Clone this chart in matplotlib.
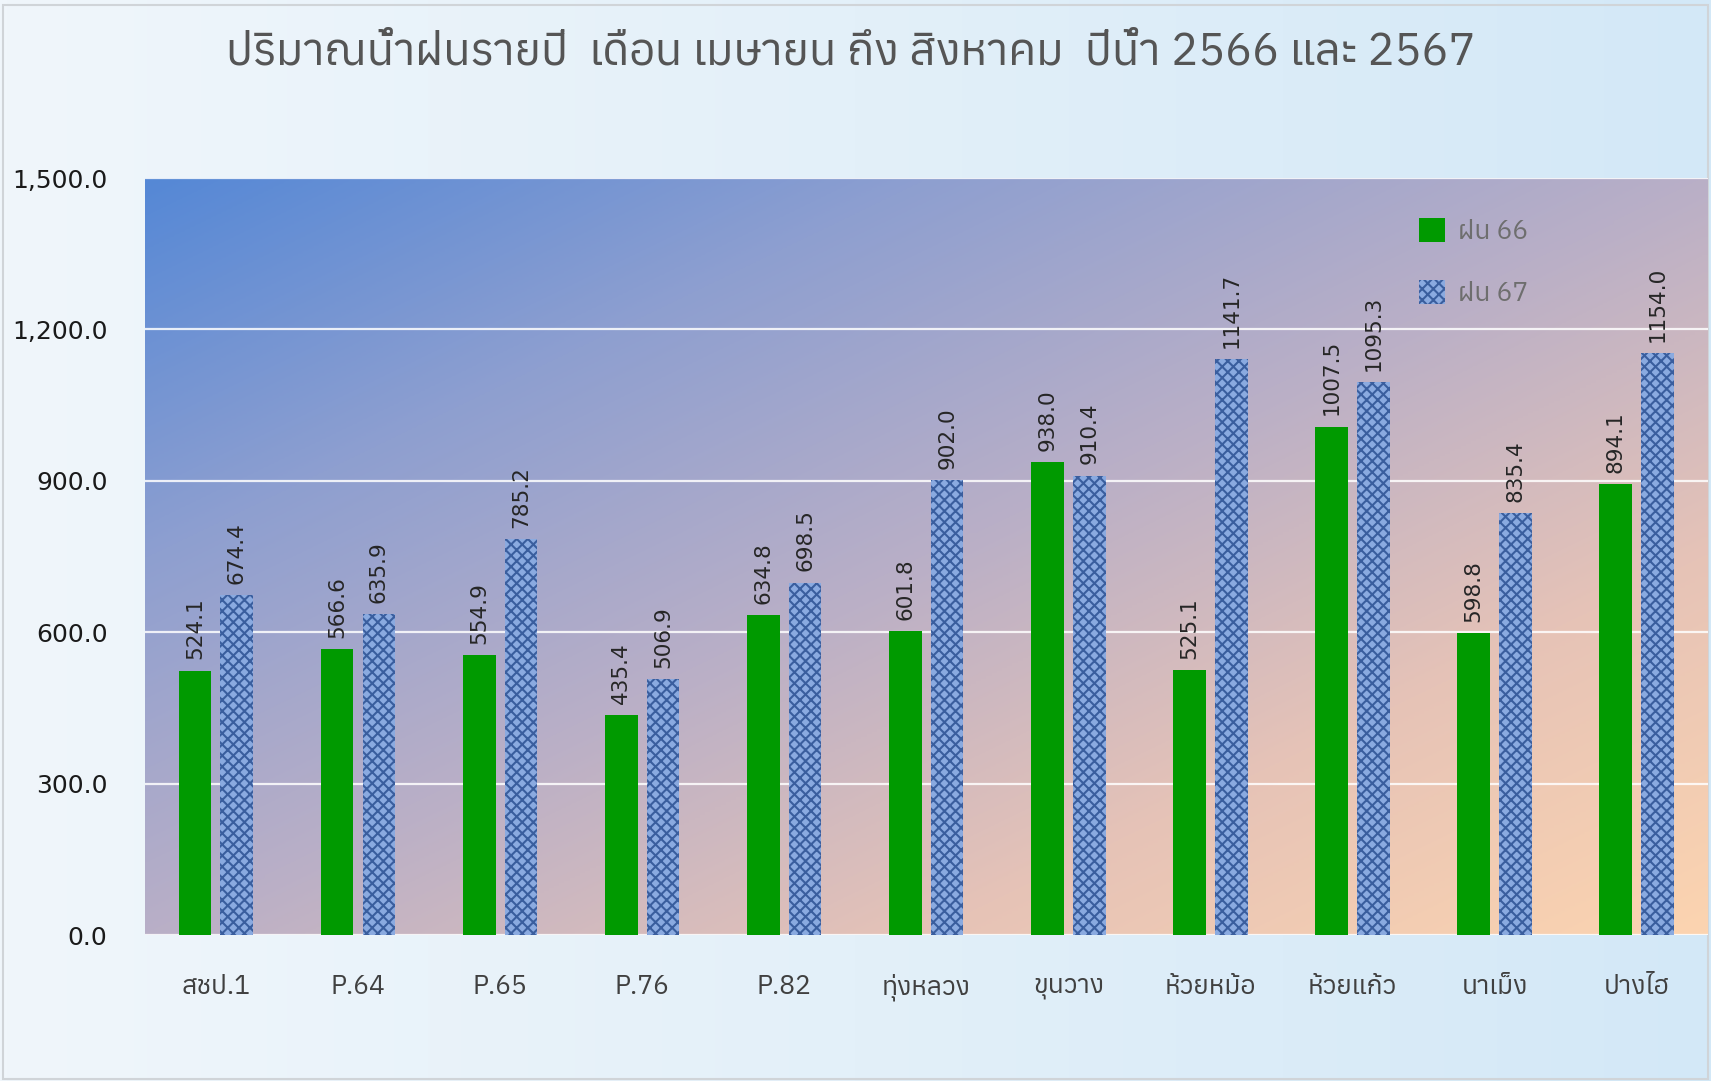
import matplotlib
matplotlib.use('Agg')
import matplotlib.pyplot as plt
import numpy as np
from matplotlib import font_manager
from matplotlib.ft2font import FT2Font
from matplotlib.colors import LinearSegmentedColormap
from matplotlib.patches import Patch, Rectangle
from matplotlib.ticker import FuncFormatter

# data
stations = ['สชป.1', 'P.64', 'P.65', 'P.76', 'P.82', 'ทุ่งหลวง', 'ขุนวาง',
            'ห้วยหม้อ', 'ห้วยแก้ว', 'นาเม็ง', 'ปางไฮ']
rain_66 = [524.1, 566.6, 554.9, 435.4, 634.8, 601.8, 938.0, 525.1, 1007.5, 598.8, 894.1]
rain_67 = [674.4, 635.9, 785.2, 506.9, 698.5, 902.0, 910.4, 1141.7, 1095.3, 835.4, 1154.0]
series_names = ['ฝน 66', 'ฝน 67']
title = 'ปริมาณน้ำฝนรายปี  เดือน เมษายน ถึง สิงหาคม  ปีน้ำ 2566 และ 2567'
yticks = [0, 300, 600, 900, 1200, 1500]


def find_thai_font():
    """หาฟอนต์ที่มีอักษรไทย"""
    names = []
    for f in font_manager.fontManager.ttflist:
        try:
            if 0x0E1B in FT2Font(f.fname).get_charmap():
                names.append(f.name)
        except Exception:
            pass
    names = sorted(set(names))
    return names[0] if names else 'DejaVu Sans'


thai = find_thai_font()
plt.rcParams['font.family'] = [thai, 'DejaVu Sans']
plt.rcParams['hatch.linewidth'] = 1.5

fig = plt.figure(figsize=(17.11, 10.81), dpi=100)

# figure background (light icy blue)
bg = fig.add_axes([0, 0, 1, 1], zorder=-10)
bg_cmap = LinearSegmentedColormap.from_list('bg', ['#F0F6FB', '#E3F0F9', '#D3E8F7'])
gx = np.linspace(0, 1, 256)
bg.imshow(np.tile(gx, (16, 1)), cmap=bg_cmap, aspect='auto', extent=[0, 1, 0, 1])
bg.add_patch(Rectangle((0.002, 0.002), 0.996, 0.993, fill=False,
                       edgecolor='#D0D4D8', linewidth=1.5))
bg.set_xlim(0, 1)
bg.set_ylim(0, 1)
bg.set_axis_off()

ax = fig.add_axes([0.0847, 0.135, 0.9133, 0.7003])

# plot area gradient (blue top-left -> peach bottom-right)
pa_cmap = LinearSegmentedColormap.from_list(
    'pa', ['#5588D6', '#8E9FD0', '#B9AFC7', '#E6C3B7', '#FCD4B0'])
u = np.linspace(0, 1, 300)
v = np.linspace(1, 0, 300)
U, V = np.meshgrid(u, v)
ax.imshow((U + (1 - V)) / 2, cmap=pa_cmap, aspect='auto',
          extent=[-0.5, 10.5, 0, 1500], zorder=0, interpolation='bilinear')

x = np.arange(len(stations))
w = 0.23
off = 0.147
b1 = ax.bar(x - off, rain_66, w, color='#009A00', zorder=3)
b2 = ax.bar(x + off, rain_67, w, color='#8AAAE0', edgecolor='#3A5E9E',
            hatch='xxx', linewidth=0, zorder=3)

for bars in (b1, b2):
    for bar in bars:
        h = bar.get_height()
        ax.annotate(f'{h:.1f}', xy=(bar.get_x() + bar.get_width() / 2, h),
                    xytext=(0, 8), textcoords='offset points', rotation=90,
                    ha='center', va='bottom', fontsize=15.5, color='#262626',
                    family=['DejaVu Sans'], zorder=4)

ax.set_xlim(-0.5, 10.5)
ax.set_ylim(0, 1500)
ax.set_yticks(yticks)
ax.yaxis.set_major_formatter(FuncFormatter(lambda v, p: f'{v:,.1f}'))
ax.grid(axis='y', color='white', linewidth=1.6, alpha=0.85, zorder=1)
ax.set_axisbelow(False)
ax.set_xticks(x)
ax.set_xticklabels(stations, fontsize=19, color='#404040')
ax.tick_params(axis='x', length=0, pad=28)
ax.tick_params(axis='y', length=0, pad=27, labelsize=18, labelcolor='#1A1A1A')
for lbl in ax.get_yticklabels():
    lbl.set_family(['DejaVu Sans'])
for s in ax.spines.values():
    s.set_visible(False)

handles = [Patch(facecolor='#009A00', label=series_names[0]),
           Patch(facecolor='#8AAAE0', edgecolor='#3A5E9E', hatch='xxx',
                 linewidth=0, label=series_names[1])]
ax.legend(handles=handles, loc='upper left', bbox_to_anchor=(0.8, 0.978),
          frameon=False, fontsize=19, labelcolor='#6E6E6E',
          handlelength=1.0, handleheight=1.0, handletextpad=0.5, labelspacing=1.35)

fig.text(0.497, 0.952, title, ha='center', va='center', fontsize=32.5,
         color='#555555', fontweight='bold')

fig.savefig('out.png', dpi=100)
